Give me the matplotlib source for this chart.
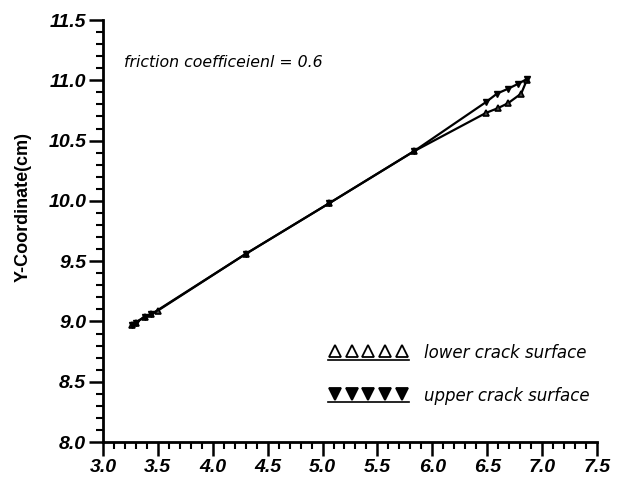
import numpy as np
import matplotlib
matplotlib.use("Agg")
import matplotlib.pyplot as plt
from matplotlib.lines import Line2D
from matplotlib.legend_handler import HandlerBase
from matplotlib.ticker import MultipleLocator

# data
lower_x = [3.26, 3.30, 3.38, 3.44, 3.50, 4.30, 5.06, 5.83, 6.49, 6.60, 6.69, 6.81, 6.86]
lower_y = [8.97, 8.99, 9.04, 9.06, 9.09, 9.56, 9.98, 10.41, 10.73, 10.77, 10.81, 10.89, 11.00]
upper_x = [3.26, 3.30, 3.38, 3.44, 4.30, 5.06, 5.83, 6.49, 6.59, 6.69, 6.78, 6.86]
upper_y = [8.97, 8.99, 9.04, 9.06, 9.56, 9.98, 10.41, 10.82, 10.89, 10.93, 10.97, 11.01]

x_ticks = [3.0, 3.5, 4.0, 4.5, 5.0, 5.5, 6.0, 6.5, 7.0, 7.5]
y_ticks = [8.0, 8.5, 9.0, 9.5, 10.0, 10.5, 11.0, 11.5]
annotation = "friction coefficeienl = 0.6"
legend_labels = ["lower crack surface", "upper crack surface"]
y_label = "Y-Coordinate(cm)"

plt.rcParams['font.family'] = ['Liberation Sans', 'DejaVu Sans']

fig = plt.figure(figsize=(6.23, 4.79), dpi=100)
ax = fig.add_axes([0.1653, 0.0772, 0.7929, 0.8810])

ax.plot(lower_x, lower_y, color='black', lw=1.6, marker='^', ms=4.5,
        mfc='#444444', mec='black', mew=1.2, label=legend_labels[0])
ax.plot(upper_x, upper_y, color='black', lw=1.6, marker='v', ms=4.5,
        mfc='black', mec='black', label=legend_labels[1])

ax.set_xlim(3.0, 7.5)
ax.set_ylim(8.0, 11.5)
ax.set_xticks(x_ticks)
ax.set_yticks(y_ticks)
ax.set_xticklabels([f"{v:.1f}" for v in x_ticks])
ax.set_yticklabels([f"{v:.1f}" for v in y_ticks])
ax.xaxis.set_minor_locator(MultipleLocator(0.1))
ax.yaxis.set_minor_locator(MultipleLocator(0.1))

for s in ['top', 'right']:
    ax.spines[s].set_visible(False)
for s in ['left', 'bottom']:
    ax.spines[s].set_linewidth(2.0)

ax.tick_params(which='major', direction='out', length=10, width=1.8, pad=2)
ax.tick_params(which='minor', direction='out', length=5, width=1.5)
for lab in ax.get_xticklabels() + ax.get_yticklabels():
    lab.set_fontsize(14)
    lab.set_fontweight('bold')
    lab.set_fontstyle('italic')

ax.set_ylabel(y_label, fontsize=13, fontweight='bold')
ax.yaxis.set_label_coords(-0.145, 0.557)

ax.text(3.19, 11.145, annotation, fontsize=11.3, fontstyle='italic',
        family=['DejaVu Sans'], va='center', ha='left')


class UnderlineHandler(HandlerBase):
    def create_artists(self, legend, orig_handle, xdescent, ydescent,
                       width, height, fontsize, trans):
        xs = np.linspace(-xdescent + width * 0.09, -xdescent + width * 0.91, 5)
        ys = np.full(5, -ydescent + height * 0.6)
        fc = 'white' if orig_handle.get_marker() == '^' else 'black'
        m = Line2D(xs, ys, linestyle='none', marker=orig_handle.get_marker(),
                   markersize=8, mfc=fc, mec='black', mew=1.3)
        ln = Line2D([-xdescent, -xdescent + width],
                    [-ydescent - height * 0.1] * 2, color='black', lw=1.2)
        m.set_transform(trans)
        ln.set_transform(trans)
        return [m, ln]


h, l = ax.get_legend_handles_labels()
leg = ax.legend(h, l, handler_map={Line2D: UnderlineHandler()},
                loc='lower right', bbox_to_anchor=(1.016, 0.053),
                frameon=False, handlelength=4.9, handletextpad=0.9,
                labelspacing=1.45,
                prop={'style': 'italic', 'size': 12, 'family': 'DejaVu Sans'})

fig.savefig("out.png", dpi=100)
